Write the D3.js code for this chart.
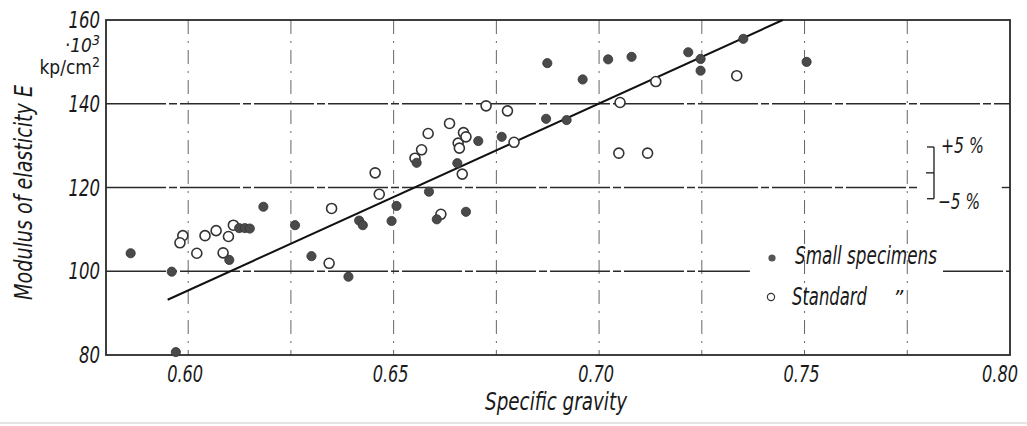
<!DOCTYPE html>
<html>
<head>
<meta charset="utf-8">
<script src="https://cdn.jsdelivr.net/npm/d3@7"></script>
<style>
  html, body { margin: 0; padding: 0; background: #fff; }
  svg { display: block; }
  text { font-family: "DejaVu Sans Condensed", "DejaVu Sans", sans-serif; fill: #1a1a1a; }
  .it { font-style: italic; }
</style>
</head>
<body>
<svg id="chart" width="1027" height="426"></svg>
<script>
// ---- data ----
const smallX = [0.586, 0.596, 0.597, 0.610, 0.6124, 0.6138, 0.615, 0.6183, 0.626, 0.630, 0.639, 0.6416, 0.6425, 0.6495, 0.6507, 0.6556, 0.6586, 0.6605, 0.6655, 0.6676, 0.6706, 0.6763, 0.6871, 0.6921, 0.6874, 0.696, 0.7022, 0.7079, 0.7217, 0.7247, 0.7247, 0.7351, 0.7505];
const smallY = [104.3, 99.9, 80.7, 102.7, 110.3, 110.3, 110.2, 115.4, 111.0, 103.6, 98.7, 112.1, 111.0, 112.0, 115.6, 125.9, 119.0, 112.4, 125.8, 114.2, 131.1, 132.1, 136.4, 136.1, 149.7, 145.8, 150.6, 151.2, 152.3, 150.7, 147.9, 155.5, 150.0];
const standardX = [0.5987, 0.598, 0.6021, 0.6041, 0.6068, 0.6098, 0.611, 0.6085, 0.6349, 0.6343, 0.6455, 0.6465, 0.6552, 0.6568, 0.6584, 0.6636, 0.6657, 0.666, 0.667, 0.6676, 0.6667, 0.6615, 0.6725, 0.6777, 0.6793, 0.7051, 0.7138, 0.7335, 0.7048, 0.7118];
const standardY = [108.5, 106.8, 104.3, 108.5, 109.7, 108.3, 111.0, 104.4, 115.0, 101.9, 123.5, 118.4, 127.0, 129.0, 132.9, 135.3, 130.6, 129.4, 133.1, 132.1, 123.2, 113.6, 139.5, 138.3, 130.8, 140.3, 145.3, 146.7, 128.2, 128.2];
const fitX = [0.595, 0.7447];
const fitY = [93.2, 160];
const xTicks = [0.60, 0.65, 0.70, 0.75, 0.80];
const xTickLabels = ["0.60", "0.65", "0.70", "0.75", "0.80"];
const xGrid = [0.60, 0.625, 0.65, 0.675, 0.70, 0.725, 0.75, 0.775];
const yTicks = [80, 100, 120, 140, 160];
const yTickLabels = ["80", "100", "120", "140", "160"];
const legendLabels = ["Small specimens", "Standard"];
const bracketCenter = 123.5;
const bracketPct = 0.05;

// ---- layout ----
const W = 1027, H = 426;
const m = { left: 106, top: 20, right: 17, bottom: 71 };
const svg = d3.select("#chart");
const x = d3.scaleLinear().domain([0.58, 0.80]).range([m.left, W - m.right]);
const y = d3.scaleLinear().domain([80, 160]).range([H - m.bottom, m.top]);
const ink = "#2a2a2a";

function fit(sel, len) {
  return sel.attr("textLength", len).attr("lengthAdjust", "spacingAndGlyphs");
}

// vertical grid (dashed)
svg.append("g").selectAll("line").data(xGrid).join("line")
  .attr("x1", d => x(d)).attr("x2", d => x(d))
  .attr("y1", y(160)).attr("y2", y(80))
  .attr("stroke", "#666").attr("stroke-width", 1)
  .attr("stroke-dasharray", "14,7,2,7");

// horizontal grid lines (with gaps for legend/annotation)
const hSegs = [
  { v: 140, a: 0.58, b: 0.80 },
  { v: 120, a: 0.58, b: 0.7776 },
  { v: 120, a: 0.798, b: 0.80 },
  { v: 100, a: 0.58, b: 0.7367 },
  { v: 100, a: 0.7837, b: 0.80 }
];
svg.append("g").selectAll("line").data(hSegs).join("line")
  .attr("x1", d => x(d.a)).attr("x2", d => x(d.b))
  .attr("y1", d => y(d.v)).attr("y2", d => y(d.v))
  .attr("stroke", ink).attr("stroke-width", 1.4)
  .attr("stroke-dasharray", "60,3,8,3");

// frame
svg.append("rect")
  .attr("x", x(0.58)).attr("y", y(160))
  .attr("width", x(0.80) - x(0.58)).attr("height", y(80) - y(160))
  .attr("fill", "none").attr("stroke", ink).attr("stroke-width", 1.8);

// fit line
svg.append("line")
  .attr("x1", x(fitX[0])).attr("y1", y(fitY[0]))
  .attr("x2", x(fitX[1])).attr("y2", y(fitY[1]))
  .attr("stroke", "#111").attr("stroke-width", 2);

// standard (open) points
svg.append("g").selectAll("circle").data(standardX.map((d, i) => [d, standardY[i]])).join("circle")
  .attr("cx", d => x(d[0])).attr("cy", d => y(d[1])).attr("r", 5)
  .attr("fill", "#fff").attr("stroke", "#333").attr("stroke-width", 1.6);

// small specimens (filled)
svg.append("g").selectAll("circle").data(smallX.map((d, i) => [d, smallY[i]])).join("circle")
  .attr("cx", d => x(d[0])).attr("cy", d => y(d[1])).attr("r", 4.6)
  .attr("fill", "#4a4a4a").attr("stroke", "#333").attr("stroke-width", 0.8);

// x tick labels (horizontally condensed via transform)
svg.append("g").selectAll("text").data(xTicks).join("text")
  .attr("class", "it")
  .attr("transform", (d, i) => `translate(${x(d) - (i === xTicks.length - 1 ? 10 : 3)}, ${y(80) + 27}) scale(0.78, 1)`)
  .attr("text-anchor", "middle").attr("font-size", 23)
  .text((d, i) => xTickLabels[i]);

// y tick labels
svg.append("g").selectAll("text").data(yTicks).join("text")
  .attr("class", "it")
  .attr("transform", d => `translate(${m.left - 6}, ${y(d) + 8}) scale(0.8, 1)`)
  .attr("text-anchor", "end").attr("font-size", 23)
  .text((d, i) => yTickLabels[i]);

// unit
svg.append("text").attr("class", "it")
  .attr("x", m.left - 6).attr("y", y(160) + 32)
  .attr("text-anchor", "end").attr("font-size", 19)
  .html("·10<tspan dy='-7' font-size='14'>3</tspan>");
svg.append("text")
  .attr("x", m.left - 6).attr("y", y(160) + 54)
  .attr("text-anchor", "end").attr("font-size", 19)
  .html("kp/cm<tspan dy='-7' font-size='14'>2</tspan>");

// axis titles
fit(svg.append("text").attr("class", "it")
  .attr("x", 556).attr("y", 410)
  .attr("text-anchor", "middle").attr("font-size", 24)
  .text("Specific gravity"), 142);
fit(svg.append("text").attr("class", "it")
  .attr("transform", `translate(32, ${(85 + 300) / 2}) rotate(-90)`)
  .attr("text-anchor", "middle").attr("font-size", 25)
  .text("Modulus of elasticity E"), 215);

// ±5% bracket
const bx = x(0.7815);
const bTop = y(bracketCenter * (1 + bracketPct)), bMid = y(bracketCenter), bBot = y(bracketCenter * (1 - bracketPct));
const br = svg.append("g").attr("stroke", ink).attr("stroke-width", 1.4).attr("fill", "none");
br.append("line").attr("x1", bx).attr("x2", bx).attr("y1", bTop).attr("y2", bBot);
br.append("line").attr("x1", bx - 7).attr("x2", bx).attr("y1", bTop).attr("y2", bTop);
br.append("line").attr("x1", bx - 8).attr("x2", bx).attr("y1", bMid).attr("y2", bMid);
br.append("line").attr("x1", bx - 7).attr("x2", bx).attr("y1", bBot).attr("y2", bBot);
fit(svg.append("text").attr("class", "it").attr("x", bx + 7).attr("y", bTop + 6)
  .attr("font-size", 21).text("+5 %"), 43);
fit(svg.append("text").attr("class", "it").attr("x", bx + 4).attr("y", bBot + 10)
  .attr("font-size", 21).text("−5 %"), 42);

// legend
const lg = svg.append("g");
lg.append("circle").attr("cx", 772).attr("cy", 258).attr("r", 3.6).attr("fill", "#555");
lg.append("circle").attr("cx", 771).attr("cy", 297).attr("r", 3.6).attr("fill", "#fff").attr("stroke", "#333").attr("stroke-width", 1.2);
fit(lg.append("text").attr("class", "it").attr("x", 795).attr("y", 264).attr("font-size", 24).text(legendLabels[0]), 142);
fit(lg.append("text").attr("class", "it").attr("x", 792).attr("y", 305).attr("font-size", 24).text(legendLabels[1]), 75);
lg.append("text").attr("class", "it").attr("x", 893).attr("y", 306).attr("font-size", 22).text("\u201D");

// faint scan edge
svg.append("line").attr("x1", 0).attr("x2", W).attr("y1", 423).attr("y2", 423)
  .attr("stroke", "#e4e4e4").attr("stroke-width", 2);
</script>
</body>
</html>
